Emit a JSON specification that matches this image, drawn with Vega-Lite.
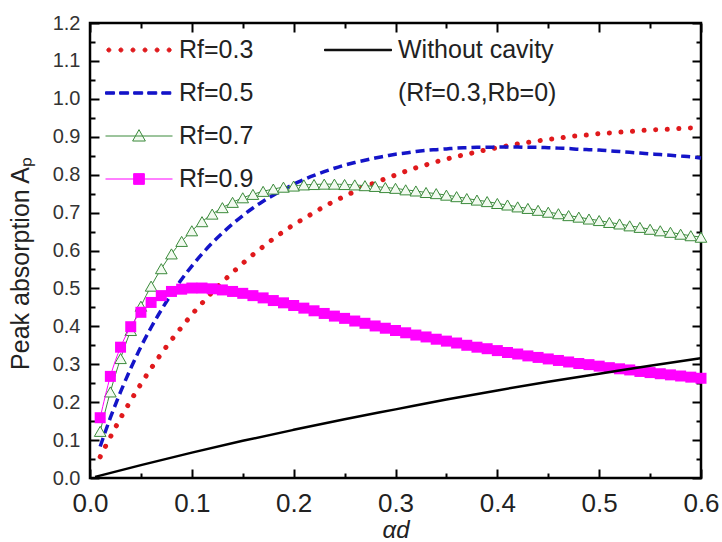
{
  "$schema": "https://vega.github.io/schema/vega-lite/v6.json",
  "width": 611,
  "height": 455,
  "autosize": {"type": "none"},
  "padding": {"left": 90, "top": 23, "right": 21, "bottom": 64},
  "background": "white",
  "config": {
    "font": "Liberation Sans",
    "view": {"stroke": "black", "strokeWidth": 2.5},
    "axis": {"grid": false, "domain": false, "tickColor": "black", "tickWidth": 2, "labelFont": "Liberation Sans", "titleFont": "Liberation Sans", "titleFontWeight": "normal"}
  },
  "datasets": {
    "r3": [
      {"x":0.01,"y":0.056},{"x":0.02,"y":0.108},{"x":0.03,"y":0.158},{"x":0.04,"y":0.204},{"x":0.05,"y":0.248},{"x":0.06,"y":0.289},{"x":0.07,"y":0.328},{"x":0.08,"y":0.364},{"x":0.09,"y":0.398},{"x":0.10,"y":0.431},
      {"x":0.11,"y":0.461},{"x":0.12,"y":0.490},{"x":0.13,"y":0.517},{"x":0.14,"y":0.542},{"x":0.15,"y":0.566},{"x":0.16,"y":0.589},{"x":0.17,"y":0.610},{"x":0.18,"y":0.631},{"x":0.19,"y":0.650},{"x":0.20,"y":0.668},
      {"x":0.21,"y":0.684},{"x":0.22,"y":0.700},{"x":0.23,"y":0.716},{"x":0.24,"y":0.730},{"x":0.25,"y":0.743},{"x":0.26,"y":0.756},{"x":0.27,"y":0.768},{"x":0.28,"y":0.779},{"x":0.29,"y":0.789},{"x":0.30,"y":0.799},
      {"x":0.31,"y":0.809},{"x":0.32,"y":0.818},{"x":0.33,"y":0.826},{"x":0.34,"y":0.834},{"x":0.35,"y":0.841},{"x":0.36,"y":0.848},{"x":0.37,"y":0.854},{"x":0.38,"y":0.860},{"x":0.39,"y":0.866},{"x":0.40,"y":0.871},
      {"x":0.41,"y":0.876},{"x":0.42,"y":0.881},{"x":0.43,"y":0.885},{"x":0.44,"y":0.889},{"x":0.45,"y":0.893},{"x":0.46,"y":0.896},{"x":0.47,"y":0.900},{"x":0.48,"y":0.903},{"x":0.49,"y":0.905},{"x":0.50,"y":0.908},
      {"x":0.51,"y":0.910},{"x":0.52,"y":0.912},{"x":0.53,"y":0.914},{"x":0.54,"y":0.916},{"x":0.55,"y":0.918},{"x":0.56,"y":0.919},{"x":0.57,"y":0.920},{"x":0.58,"y":0.922},{"x":0.59,"y":0.923},{"x":0.60,"y":0.923}
    ],
    "r5": [
      {"x":0.01,"y":0.083},{"x":0.02,"y":0.159},{"x":0.03,"y":0.227},{"x":0.04,"y":0.289},{"x":0.05,"y":0.346},{"x":0.06,"y":0.397},{"x":0.07,"y":0.443},{"x":0.08,"y":0.485},{"x":0.09,"y":0.524},{"x":0.10,"y":0.559},
      {"x":0.11,"y":0.591},{"x":0.12,"y":0.620},{"x":0.13,"y":0.646},{"x":0.14,"y":0.670},{"x":0.15,"y":0.692},{"x":0.16,"y":0.712},{"x":0.17,"y":0.730},{"x":0.18,"y":0.746},{"x":0.19,"y":0.761},{"x":0.20,"y":0.775},
      {"x":0.21,"y":0.787},{"x":0.22,"y":0.798},{"x":0.23,"y":0.808},{"x":0.24,"y":0.817},{"x":0.25,"y":0.825},{"x":0.26,"y":0.832},{"x":0.27,"y":0.838},{"x":0.28,"y":0.844},{"x":0.29,"y":0.849},{"x":0.30,"y":0.854},
      {"x":0.31,"y":0.857},{"x":0.32,"y":0.861},{"x":0.33,"y":0.864},{"x":0.34,"y":0.866},{"x":0.35,"y":0.868},{"x":0.36,"y":0.870},{"x":0.37,"y":0.871},{"x":0.38,"y":0.872},{"x":0.39,"y":0.872},{"x":0.40,"y":0.873},
      {"x":0.41,"y":0.873},{"x":0.42,"y":0.873},{"x":0.43,"y":0.872},{"x":0.44,"y":0.872},{"x":0.45,"y":0.871},{"x":0.46,"y":0.870},{"x":0.47,"y":0.869},{"x":0.48,"y":0.867},{"x":0.49,"y":0.866},{"x":0.50,"y":0.865},
      {"x":0.51,"y":0.863},{"x":0.52,"y":0.861},{"x":0.53,"y":0.859},{"x":0.54,"y":0.857},{"x":0.55,"y":0.855},{"x":0.56,"y":0.853},{"x":0.57,"y":0.851},{"x":0.58,"y":0.849},{"x":0.59,"y":0.847},{"x":0.60,"y":0.844}
    ],
    "r7": [
      {"x":0.01,"y":0.123},{"x":0.02,"y":0.227},{"x":0.03,"y":0.315},{"x":0.04,"y":0.389},{"x":0.05,"y":0.453},{"x":0.06,"y":0.506},{"x":0.07,"y":0.552},{"x":0.08,"y":0.591},{"x":0.09,"y":0.624},{"x":0.10,"y":0.652},
      {"x":0.11,"y":0.676},{"x":0.12,"y":0.696},{"x":0.13,"y":0.713},{"x":0.14,"y":0.727},{"x":0.15,"y":0.739},{"x":0.16,"y":0.748},{"x":0.17,"y":0.756},{"x":0.18,"y":0.762},{"x":0.19,"y":0.767},{"x":0.20,"y":0.770},
      {"x":0.21,"y":0.773},{"x":0.22,"y":0.774},{"x":0.23,"y":0.775},{"x":0.24,"y":0.775},{"x":0.25,"y":0.774},{"x":0.26,"y":0.773},{"x":0.27,"y":0.771},{"x":0.28,"y":0.769},{"x":0.29,"y":0.766},{"x":0.30,"y":0.764},
      {"x":0.31,"y":0.760},{"x":0.32,"y":0.757},{"x":0.33,"y":0.753},{"x":0.34,"y":0.750},{"x":0.35,"y":0.746},{"x":0.36,"y":0.742},{"x":0.37,"y":0.737},{"x":0.38,"y":0.733},{"x":0.39,"y":0.729},{"x":0.40,"y":0.724},
      {"x":0.41,"y":0.720},{"x":0.42,"y":0.715},{"x":0.43,"y":0.711},{"x":0.44,"y":0.706},{"x":0.45,"y":0.701},{"x":0.46,"y":0.697},{"x":0.47,"y":0.692},{"x":0.48,"y":0.688},{"x":0.49,"y":0.683},{"x":0.50,"y":0.679},
      {"x":0.51,"y":0.674},{"x":0.52,"y":0.670},{"x":0.53,"y":0.665},{"x":0.54,"y":0.661},{"x":0.55,"y":0.656},{"x":0.56,"y":0.652},{"x":0.57,"y":0.648},{"x":0.58,"y":0.643},{"x":0.59,"y":0.639},{"x":0.60,"y":0.635}
    ],
    "r9": [
      {"x":0.01,"y":0.159},{"x":0.02,"y":0.268},{"x":0.03,"y":0.345},{"x":0.04,"y":0.399},{"x":0.05,"y":0.437},{"x":0.06,"y":0.463},{"x":0.07,"y":0.481},{"x":0.08,"y":0.492},{"x":0.09,"y":0.498},{"x":0.10,"y":0.501},
      {"x":0.11,"y":0.501},{"x":0.12,"y":0.499},{"x":0.13,"y":0.496},{"x":0.14,"y":0.492},{"x":0.15,"y":0.487},{"x":0.16,"y":0.481},{"x":0.17,"y":0.475},{"x":0.18,"y":0.468},{"x":0.19,"y":0.462},{"x":0.20,"y":0.455},
      {"x":0.21,"y":0.448},{"x":0.22,"y":0.441},{"x":0.23,"y":0.434},{"x":0.24,"y":0.427},{"x":0.25,"y":0.421},{"x":0.26,"y":0.414},{"x":0.27,"y":0.408},{"x":0.28,"y":0.401},{"x":0.29,"y":0.395},{"x":0.30,"y":0.389},
      {"x":0.31,"y":0.383},{"x":0.32,"y":0.377},{"x":0.33,"y":0.372},{"x":0.34,"y":0.366},{"x":0.35,"y":0.361},{"x":0.36,"y":0.356},{"x":0.37,"y":0.350},{"x":0.38,"y":0.345},{"x":0.39,"y":0.341},{"x":0.40,"y":0.336},
      {"x":0.41,"y":0.331},{"x":0.42,"y":0.327},{"x":0.43,"y":0.322},{"x":0.44,"y":0.318},{"x":0.45,"y":0.314},{"x":0.46,"y":0.310},{"x":0.47,"y":0.306},{"x":0.48,"y":0.302},{"x":0.49,"y":0.299},{"x":0.50,"y":0.295},
      {"x":0.51,"y":0.291},{"x":0.52,"y":0.288},{"x":0.53,"y":0.285},{"x":0.54,"y":0.281},{"x":0.55,"y":0.278},{"x":0.56,"y":0.275},{"x":0.57,"y":0.272},{"x":0.58,"y":0.269},{"x":0.59,"y":0.266},{"x":0.60,"y":0.263}
    ],
    "wo": [
      {"x":0.005,"y":0.003},{"x":0.05,"y":0.034},{"x":0.10,"y":0.067},{"x":0.15,"y":0.098},{"x":0.20,"y":0.127},{"x":0.25,"y":0.155},{"x":0.30,"y":0.181},
      {"x":0.35,"y":0.207},{"x":0.40,"y":0.231},{"x":0.45,"y":0.254},{"x":0.50,"y":0.275},{"x":0.55,"y":0.296},{"x":0.60,"y":0.316}
    ]
  },
  "resolve": {"axis": {"x": "independent", "y": "independent"}},
  "layer": [
    {
      "data": {"name": "r3"},
      "mark": {"type": "line", "strokeDash": [0.1, 11.5], "strokeCap": "round", "strokeWidth": 5, "interpolate": "monotone"},
      "encoding": {
        "x": {"field": "x", "type": "quantitative", "scale": {"domain": [0, 0.6], "nice": false, "zero": false},
          "axis": {"orient": "bottom", "values": [0,0.05,0.1,0.15,0.2,0.25,0.3,0.35,0.4,0.45,0.5,0.55,0.6],
            "labelExpr": "round(datum.value*20)%2==0 ? format(datum.value,'.1f') : ''",
            "tickSize": {"condition": {"test": "round(datum.value*20)%2==1", "value": -5}, "value": -9},
            "labelFontSize": 26, "labelColor": "#222", "labelPadding": 21, "labelFlush": false, "labelOverlap": false,
            "title": "αd", "titleFontStyle": "italic", "titleFontSize": 24, "titleColor": "#222", "titlePadding": -2}},
        "y": {"field": "y", "type": "quantitative", "scale": {"domain": [0, 1.2], "nice": false, "zero": false},
          "axis": {"orient": "left", "values": [0,0.05,0.1,0.15,0.2,0.25,0.3,0.35,0.4,0.45,0.5,0.55,0.6,0.65,0.7,0.75,0.8,0.85,0.9,0.95,1,1.05,1.1,1.15,1.2],
            "labelExpr": "round(datum.value*20)%2==0 ? format(datum.value,'.1f') : ''",
            "tickSize": {"condition": {"test": "round(datum.value*20)%2==1", "value": -5}, "value": -9},
            "labelFontSize": 20, "labelColor": "#333", "labelPadding": 19, "labelFlush": false, "labelOverlap": false,
            "title": "Peak absorption Aₚ", "titleFontSize": 25, "titleColor": "#222", "titlePadding": 19, "titleY": 240}},
        "color": {"datum": "Rf=0.3", "type": "nominal",
          "scale": {"domain": ["Rf=0.3", "Rf=0.5", "Rf=0.7", "Rf=0.9", "Without cavity", "note", "e1", "e2"],
                    "range": ["#e0191c", "#1414c8", "#3b8a3b", "#ff00ff", "#000000", "#ffffff", "#ffffff", "#ffffff"]},
          "legend": {"title": null, "orient": "none", "legendX": 15, "legendY": 14, "padding": 0, "columns": 2, "columnPadding": 70, "rowPadding": 17,
            "clipHeight": 26, "symbolSize": 4489, "symbolStrokeWidth": 1, "symbolType": "M-1,0H1",
            "labelFont": "Liberation Sans", "labelFontSize": 25, "labelColor": "#222", "labelLimit": 400, "labelOffset": 6,
            "labelExpr": "datum.value==='note' ? '(Rf=0.3,Rb=0)' : (datum.value==='e1' || datum.value==='e2') ? '' : datum.label",
            "encode": {"symbols": {"update": {
              "shape": {"signal": "datum.value==='Rf=0.3' ? 'M-0.96,0a0.06,0.06 0 1,0 0.12,0a0.06,0.06 0 1,0 -0.12,0M-0.6,0a0.06,0.06 0 1,0 0.12,0a0.06,0.06 0 1,0 -0.12,0M-0.24,0a0.06,0.06 0 1,0 0.12,0a0.06,0.06 0 1,0 -0.12,0M0.12,0a0.06,0.06 0 1,0 0.12,0a0.06,0.06 0 1,0 -0.12,0M0.48,0a0.06,0.06 0 1,0 0.12,0a0.06,0.06 0 1,0 -0.12,0M0.84,0a0.06,0.06 0 1,0 0.12,0a0.06,0.06 0 1,0 -0.12,0' : datum.value==='Rf=0.5' ? 'M-1,-0.037H-0.73V0.037H-1ZM-0.58,-0.037H-0.31V0.037H-0.58ZM-0.16,-0.037H0.11V0.037H-0.16ZM0.26,-0.037H0.53V0.037H0.26ZM0.68,-0.037H0.95V0.037H0.68Z' : datum.value==='Rf=0.7' ? 'M-1,0H1M0,-0.19L0.19,0.15L-0.19,0.15Z' : datum.value==='Rf=0.9' ? 'M-1,0H1M-0.16,-0.16H0.16V0.16H-0.16Z' : 'M-1,-0.022H1V0.022H-1Z'"},
              "fill": {"signal": "datum.value==='Rf=0.3' ? '#e0191c' : datum.value==='Rf=0.5' ? '#1414c8' : datum.value==='Rf=0.7' ? '#f2faf0' : datum.value==='Rf=0.9' ? '#ff00ff' : '#000000'"},
              "opacity": {"signal": "(datum.value==='note' || datum.value==='e1' || datum.value==='e2') ? 0 : 1"}
            }}}}
        }
      }
    },
    {
      "data": {"name": "r5"},
      "mark": {"type": "line", "strokeDash": [9, 5], "strokeWidth": 3.5, "interpolate": "monotone"},
      "encoding": {
        "x": {"field": "x", "type": "quantitative", "axis": null},
        "y": {"field": "y", "type": "quantitative", "axis": null},
        "color": {"datum": "Rf=0.5", "type": "nominal"}
      }
    },
    {
      "data": {"name": "r7"},
      "mark": {"type": "line", "strokeWidth": 1, "interpolate": "monotone"},
      "encoding": {
        "x": {"field": "x", "type": "quantitative", "axis": null},
        "y": {"field": "y", "type": "quantitative", "axis": null},
        "color": {"datum": "Rf=0.7", "type": "nominal"}
      }
    },
    {
      "data": {"name": "r7"},
      "mark": {"type": "point", "shape": "triangle-up", "size": 135, "filled": true, "fill": "#f2faf0", "stroke": "#3b8a3b", "strokeWidth": 1, "opacity": 1},
      "encoding": {
        "x": {"field": "x", "type": "quantitative", "axis": null},
        "y": {"field": "y", "type": "quantitative", "axis": null}
      }
    },
    {
      "data": {"name": "r9"},
      "mark": {"type": "line", "strokeWidth": 1, "interpolate": "monotone"},
      "encoding": {
        "x": {"field": "x", "type": "quantitative", "axis": null},
        "y": {"field": "y", "type": "quantitative", "axis": null},
        "color": {"datum": "Rf=0.9", "type": "nominal"}
      }
    },
    {
      "data": {"name": "r9"},
      "mark": {"type": "square", "size": 121, "color": "#ff00ff", "opacity": 1},
      "encoding": {
        "x": {"field": "x", "type": "quantitative", "axis": null},
        "y": {"field": "y", "type": "quantitative", "axis": null}
      }
    },
    {
      "data": {"name": "wo"},
      "mark": {"type": "line", "strokeWidth": 2.5, "interpolate": "monotone"},
      "encoding": {
        "x": {"field": "x", "type": "quantitative",
          "axis": {"orient": "top", "values": [0,0.05,0.1,0.15,0.2,0.25,0.3,0.35,0.4,0.45,0.5,0.55,0.6], "labels": false, "title": null,
            "tickSize": {"condition": {"test": "round(datum.value*20)%2==1", "value": -5}, "value": -9}}},
        "y": {"field": "y", "type": "quantitative",
          "axis": {"orient": "right", "values": [0,0.05,0.1,0.15,0.2,0.25,0.3,0.35,0.4,0.45,0.5,0.55,0.6,0.65,0.7,0.75,0.8,0.85,0.9,0.95,1,1.05,1.1,1.15,1.2], "labels": false, "title": null,
            "tickSize": {"condition": {"test": "round(datum.value*20)%2==1", "value": -5}, "value": -9}}},
        "color": {"datum": "Without cavity", "type": "nominal"}
      }
    }
  ]
}
